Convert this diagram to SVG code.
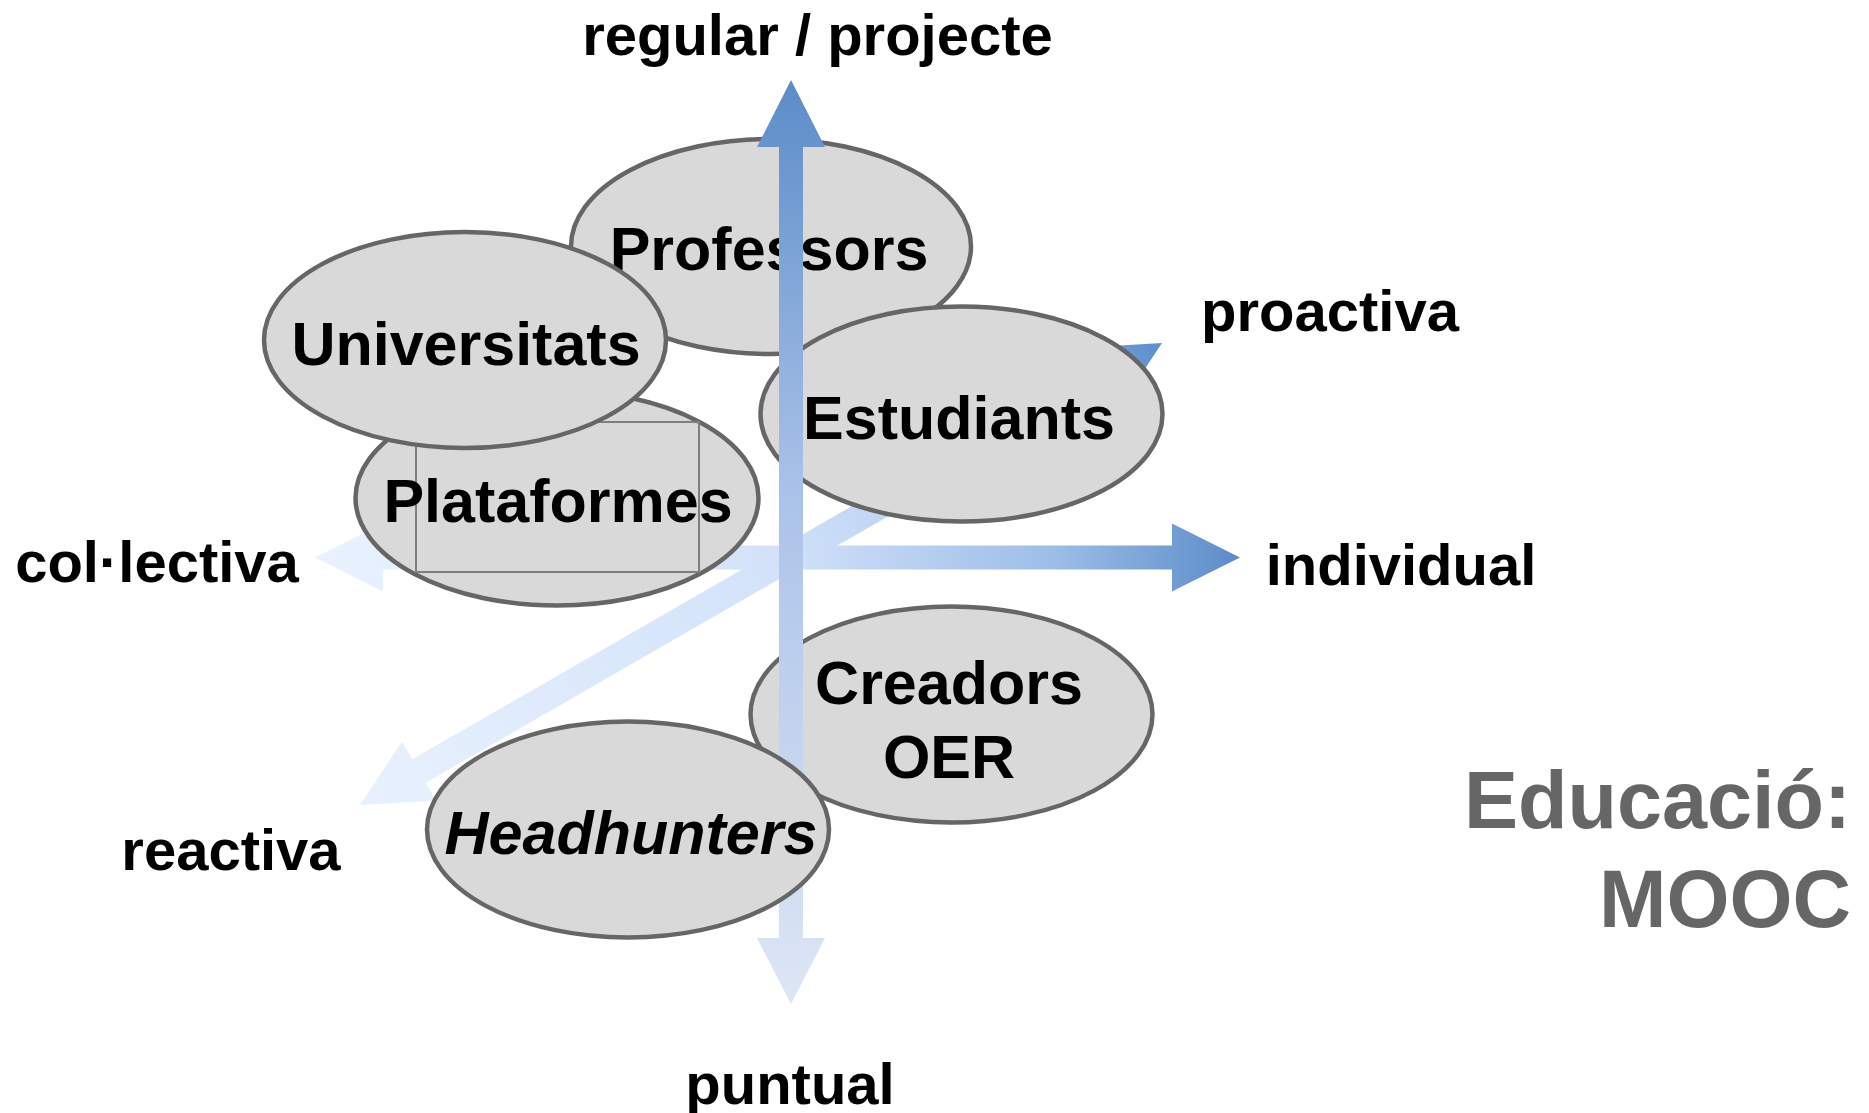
<svg xmlns="http://www.w3.org/2000/svg" width="1869" height="1113" viewBox="0 0 1869 1113">
<defs>
<linearGradient id="gV" gradientUnits="userSpaceOnUse" x1="791" y1="80" x2="791" y2="1004">
<stop offset="0" stop-color="#5b8cc8"/>
<stop offset="0.45" stop-color="#abc3e9"/>
<stop offset="1" stop-color="#dde6f4"/>
</linearGradient>
<linearGradient id="gH" gradientUnits="userSpaceOnUse" x1="315" y1="557" x2="1240" y2="557">
<stop offset="0" stop-color="#eaf2ff"/>
<stop offset="0.5" stop-color="#d3e2f9"/>
<stop offset="0.8" stop-color="#9dbde8"/>
<stop offset="1" stop-color="#5b8cc8"/>
</linearGradient>
<linearGradient id="gD" gradientUnits="userSpaceOnUse" x1="360" y1="805" x2="1162" y2="343">
<stop offset="0" stop-color="#e8f1fe"/>
<stop offset="0.5" stop-color="#d3e3fa"/>
<stop offset="0.75" stop-color="#b5cdf1"/>
<stop offset="1" stop-color="#5b8ecc"/>
</linearGradient>
</defs>
<style>
.node ellipse{fill:#d9d9d9;stroke:#666;stroke-width:4.5}
.lbl{font-family:"Liberation Sans",Arial,sans-serif;font-weight:bold;font-size:61px;fill:#000;text-anchor:middle}
.ax{font-family:"Liberation Sans",Arial,sans-serif;font-weight:bold;font-size:58px;fill:#000;text-anchor:middle}
.title{font-family:"Liberation Sans",Arial,sans-serif;font-weight:bold;font-size:81px;fill:#666;text-anchor:end}
</style>
<rect width="1869" height="1113" fill="#fff"/>

<g id="connectors">
<polygon id="axis-proactiva" fill="url(#gD)" points="360,805 435.9,800.5 425.7,782.75 1109.8,388.65 1120,406.4 1162,343 1086.1,347.5 1096.3,365.25 412.2,759.35 402,741.6"/>
<polygon id="axis-individual" fill="url(#gH)" points="315,557.5 383,523.5 383,545.5 1172,545.5 1172,523.5 1240,557.5 1172,591.5 1172,569.5 383,569.5 383,591.5"/>
</g>

<g id="professors" class="node">
<ellipse cx="771" cy="246.5" rx="200" ry="107.5"/>
<text class="lbl" x="769" y="270">Professors</text>
</g>
<g id="plataformes" class="node">
<ellipse cx="557" cy="498" rx="201.5" ry="107.5"/>
<rect x="416" y="422" width="283" height="150" fill="none" stroke="#7f7f7f" stroke-width="2"/>
<text class="lbl" x="558" y="522">Plataformes</text>
</g>
<g id="universitats" class="node">
<ellipse cx="465" cy="340" rx="201" ry="108"/>
<text class="lbl" x="466" y="365">Universitats</text>
</g>
<g id="estudiants" class="node">
<ellipse cx="961.5" cy="414" rx="201" ry="107.5"/>
<text class="lbl" x="959" y="439">Estudiants</text>
</g>
<g id="creadors" class="node">
<ellipse cx="951.5" cy="714.5" rx="201" ry="108"/>
<text class="lbl" x="949" y="704">Creadors</text>
<text class="lbl" x="949" y="778">OER</text>
</g>

<g id="connectors-vertical">
<polygon id="axis-regular" fill="url(#gV)" points="791,80 825,147 803,147 803,938 825,938 791,1004 757,938 779,938 779,147 757,147"/>
</g>

<g id="headhunters" class="node">
<ellipse cx="628" cy="829.5" rx="201" ry="108"/>
<text class="lbl" x="631" y="854" font-style="italic">Headhunters</text>
</g>

<g id="labels">
<text class="ax" x="817.5" y="55">regular / projecte</text>
<text class="ax" x="1330" y="331">proactiva</text>
<text class="ax" x="1401" y="585">individual</text>
<text class="ax" x="157" y="582">col·lectiva</text>
<text class="ax" x="231" y="870">reactiva</text>
<text class="ax" x="790" y="1104">puntual</text>
<text class="title" x="1851" y="828">Educació:</text>
<text class="title" x="1851" y="927">MOOC</text>
</g>
</svg>
